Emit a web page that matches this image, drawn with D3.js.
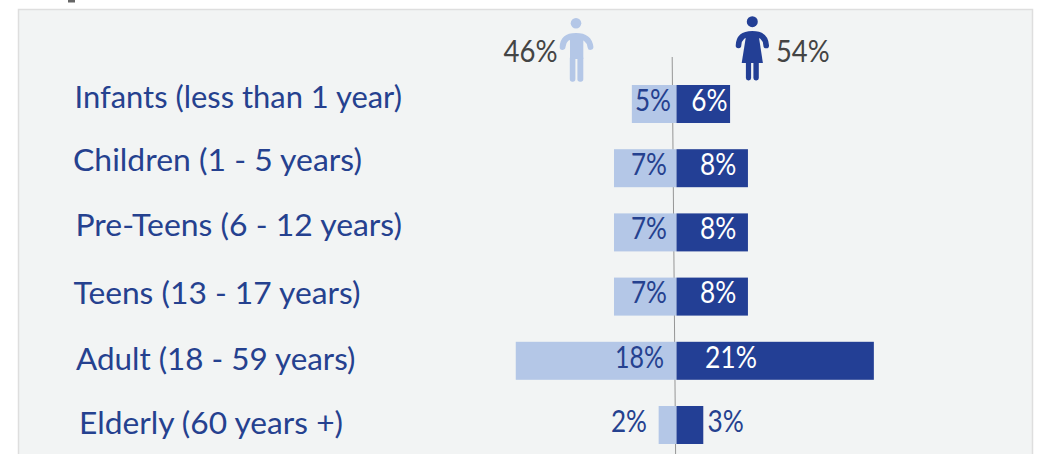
<!DOCTYPE html>
<html>
<head>
<meta charset="utf-8">
<script src="https://cdn.jsdelivr.net/npm/d3@7"></script>
<style>
    html, body { margin: 0; padding: 0; background: white; overflow: hidden; }
    text { font-family: Lato, "Open Sans", sans-serif; }
</style>
</head>
<body>
<div id="chart"></div>
<script>
// values
const groups = ["Infants (less than 1 year)", "Children (1 - 5 years)", "Pre-Teens (6 - 12 years)",
    "Teens (13 - 17 years)", "Adult (18 - 59 years)", "Elderly (60 years +)"];
const maleBars = [5, 7, 7, 7, 18, 2];
const femaleBars = [6, 8, 8, 8, 22.1, 3];
const maleLabels = ["5%", "7%", "7%", "7%", "18%", "2%"];
const femaleLabels = ["6%", "8%", "8%", "8%", "21%", "3%"];
const maleTotal = "46%";
const femaleTotal = "54%";

// layout tweaks, the labels in the original are hand placed
const groupX = [74.5, 73, 75.5, 73.5, 76, 79];
const groupWidth = [327.5, 289, 326.5, 287, 279.5, 264];
const groupBaseline = [107.5, 171, 235.5, 303.5, 369.5, 433.5];
const maleGap = [5.5, 9.5, 9.5, 9.5, 12.5, 29.5];
const maleWidth = [36, 36, 36, 36, 49, 36];
const femaleGap = [14.8, 23.5, 23.5, 23.5, 28.5, 31];
const femaleWidth = [36.3, 36.3, 36.3, 36.3, 52, 36.3];

const dark = "#233f95";
const light = "#b4c7e7";
const grey = "#444444";

const wSvg = 1039;
const hSvg = 454;
const xCenter = 676.5;
const unit = 8.93;

const svg = d3.select("#chart")
    .append("svg")
    .attr("width", wSvg)
    .attr("height", hSvg)
    .style("display", "block");

// what is left of the title above the panel
svg.append("rect")
    .attr("x", 68).attr("y", 0)
    .attr("width", 7).attr("height", 2.5)
    .attr("fill", "#666666");

svg.append("rect")
    .attr("x", 18.5).attr("y", 9.5)
    .attr("width", 1014).attr("height", 460)
    .attr("fill", "#f2f4f4")
    .attr("stroke", "#dedede")
    .attr("stroke-width", 1.5);

const yScale = d3.scaleBand(d3.range(groups.length), [85, 444]).paddingInner(0.408);
const xLeft = d3.scaleLinear([0, 20], [xCenter, xCenter - 20 * unit]);
const xRight = d3.scaleLinear([0, 25], [xCenter, xCenter + 25 * unit]);

// centre line leans a little in the source
svg.append("line")
    .attr("x1", 672.2).attr("y1", 57)
    .attr("x2", 675.6).attr("y2", 454)
    .attr("stroke", "#959595")
    .attr("stroke-width", 1);

const rows = svg.append("g")
    .selectAll("g")
    .data(groups)
    .enter()
    .append("g");

rows.append("rect")
    .attr("x", (d, i) => xLeft(maleBars[i]))
    .attr("y", (d, i) => yScale(i))
    .attr("width", (d, i) => xCenter - xLeft(maleBars[i]))
    .attr("height", yScale.bandwidth())
    .attr("fill", light);

rows.append("rect")
    .attr("x", xCenter)
    .attr("y", (d, i) => yScale(i))
    .attr("width", (d, i) => xRight(femaleBars[i]) - xCenter)
    .attr("height", yScale.bandwidth())
    .attr("fill", dark);

rows.append("text")
    .attr("x", (d, i) => groupX[i])
    .attr("y", (d, i) => groupBaseline[i])
    .attr("textLength", (d, i) => groupWidth[i])
    .attr("lengthAdjust", "spacingAndGlyphs")
    .attr("font-size", 30)
    .attr("fill", "#25418f")
    .text(d => d);

rows.append("text")
    .attr("x", (d, i) => xCenter - maleGap[i] - maleWidth[i])
    .attr("y", (d, i) => yScale(i) + yScale.bandwidth() / 2 + 6.8)
    .attr("textLength", (d, i) => maleWidth[i])
    .attr("lengthAdjust", "spacingAndGlyphs")
    .attr("font-size", 31)
    .attr("fill", "#25418f")
    .text((d, i) => maleLabels[i]);

rows.append("text")
    .attr("x", (d, i) => xCenter + femaleGap[i])
    .attr("y", (d, i) => yScale(i) + yScale.bandwidth() / 2 + 6.8)
    .attr("textLength", (d, i) => femaleWidth[i])
    .attr("lengthAdjust", "spacingAndGlyphs")
    .attr("font-size", 31)
    .attr("fill", (d, i) => i === groups.length - 1 ? "#25418f" : "white")
    .text((d, i) => femaleLabels[i]);

// totals
svg.append("text")
    .attr("x", 503.5).attr("y", 62)
    .attr("textLength", 54)
    .attr("lengthAdjust", "spacingAndGlyphs")
    .attr("font-size", 31)
    .attr("fill", grey)
    .text(maleTotal);

svg.append("text")
    .attr("x", 776).attr("y", 62)
    .attr("textLength", 53.6)
    .attr("lengthAdjust", "spacingAndGlyphs")
    .attr("font-size", 31)
    .attr("fill", grey)
    .text(femaleTotal);

// man icon
const man = svg.append("g").attr("fill", light);
man.append("circle").attr("cx", 576).attr("cy", 23.3).attr("r", 5.3);
man.append("path")
    .attr("d", "M562.6 47 Q563 35.8 576 35.8 Q589 35.8 590.5 47")
    .attr("fill", "none")
    .attr("stroke", light)
    .attr("stroke-width", 5.8)
    .attr("stroke-linecap", "round");
man.append("rect").attr("x", 570).attr("y", 35).attr("width", 13.3).attr("height", 24);
man.append("rect").attr("x", 569.8).attr("y", 56).attr("width", 5.6).attr("height", 25.7).attr("rx", 2.6);
man.append("rect").attr("x", 577.4).attr("y", 56).attr("width", 5.9).attr("height", 25.7).attr("rx", 2.6);

// woman icon
const woman = svg.append("g").attr("fill", dark);
woman.append("circle").attr("cx", 752.3).attr("cy", 21.7).attr("r", 5.5);
woman.append("path")
    .attr("d", "M738.5 45.5 Q739 33.8 752.3 33.8 Q765.5 33.8 766.2 45.5")
    .attr("fill", "none")
    .attr("stroke", dark)
    .attr("stroke-width", 5.6)
    .attr("stroke-linecap", "round");
woman.append("path").attr("d", "M746.5 33 L758.3 33 L762.9 63 L741.7 63 Z");
woman.append("rect").attr("x", 745.9).attr("y", 60).attr("width", 5.2).attr("height", 20.5).attr("rx", 2.4);
woman.append("rect").attr("x", 753.4).attr("y", 60).attr("width", 5.4).attr("height", 20.5).attr("rx", 2.4);
</script>
</body>
</html>
